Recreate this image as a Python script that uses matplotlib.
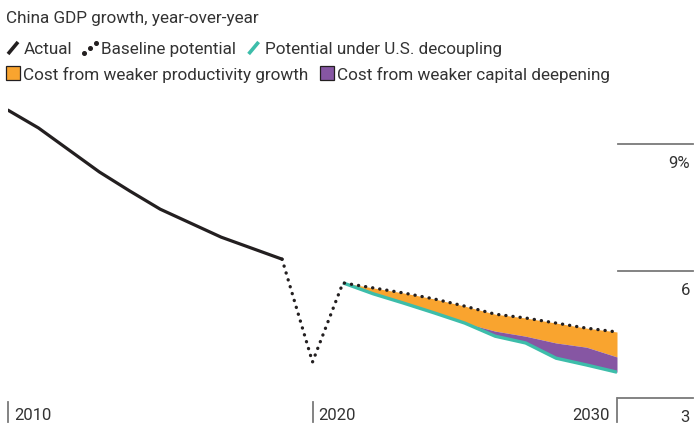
import matplotlib
matplotlib.use("Agg")
import matplotlib.pyplot as plt
from matplotlib.lines import Line2D
from matplotlib.patches import Rectangle
from matplotlib import transforms
import numpy as np

# ---- data -------------------------------------------------------------
actual_years = [2010, 2011, 2012, 2013, 2014, 2015, 2016, 2017, 2018, 2019]
actual_values = [9.80, 9.38, 8.86, 8.34, 7.89, 7.46, 7.13, 6.80, 6.54, 6.28]

baseline_years = [2019, 2020, 2021, 2022, 2023, 2024, 2025, 2026, 2027, 2028, 2029, 2030]
baseline_values = [6.28, 3.85, 5.72, 5.60, 5.48, 5.34, 5.17, 4.98, 4.89, 4.77, 4.65, 4.56]

projection_years = [2021, 2022, 2023, 2024, 2025, 2026, 2027, 2028, 2029, 2030]
productivity_cost = [0.00, 0.14, 0.24, 0.33, 0.40, 0.40, 0.43, 0.47, 0.45, 0.59]
capital_cost = [0.00, 0.00, 0.00, 0.00, 0.00, 0.12, 0.16, 0.36, 0.42, 0.36]

x_ticks = [2010, 2020, 2030]
x_tick_labels = ["2010", "2020", "2030"]
y_ticks = [3, 6, 9]
y_tick_labels = ["3", "6", "9%"]

title = "China GDP growth, year-over-year"
legend_row1 = ["Actual", "Baseline potential", "Potential under U.S. decoupling"]
legend_row2 = ["Cost from weaker productivity growth", "Cost from weaker capital deepening"]

# ---- style ------------------------------------------------------------
BLACK = "#231f20"
TEAL = "#3dbdaa"
ORANGE = "#f9a42f"
PURPLE = "#8656a3"
GRID = "#7a7a7a"
TEXT = "#333333"
FONT = ["Roboto", "DejaVu Sans"]
NUM_FONT = ["Roboto", "DejaVu Sans"]
FS = 12.3
NUM_FS = 12

W, H = 695, 425
fig = plt.figure(figsize=(W / 100, H / 100), dpi=100)
fig.patch.set_facecolor("white")

def fx(px):
    return px / W

def fy(py):
    return 1 - py / H

# axes: 2010 -> x=8px, 2030 -> x=617px ; 3 -> y=398px, 10 -> y=101.7px
ax_left, ax_right = 8, 617
ax_bottom, ax_top = 398, 398 - 7 * 42.33
ax = fig.add_axes([fx(ax_left), fy(ax_bottom), (ax_right - ax_left) / W, (ax_bottom - ax_top) / H])
ax.set_xlim(2010, 2030)
ax.set_ylim(3, 10)
ax.axis("off")

base = np.array(baseline_values[2:])
prod = np.array(productivity_cost)
cap = np.array(capital_cost)
capital_top = base - prod
decoupled = capital_top - cap

ax.fill_between(projection_years, capital_top, base, color=ORANGE, lw=0, zorder=1)
ax.fill_between(projection_years, decoupled, capital_top, color=PURPLE, lw=0, zorder=2)
ax.plot(projection_years, decoupled, color=TEAL, lw=2.4, solid_capstyle="butt", zorder=3)
ax.plot(actual_years, actual_values, color=BLACK, lw=2.3, solid_capstyle="round",
        solid_joinstyle="round", zorder=4)
ax.plot(baseline_years, baseline_values, color=BLACK, lw=2.4, linestyle=(0, (0.05, 2.1)),
        dash_capstyle="round", zorder=5)

# right-hand value scale
ytrans = ax.get_yaxis_transform()
gx0 = (618 - ax_left) / (ax_right - ax_left)
gx1 = (693 - ax_left) / (ax_right - ax_left)
lx = (690 - ax_left) / (ax_right - ax_left)
for v, lab in zip(y_ticks, y_tick_labels):
    ax.plot([gx0, gx1], [v, v], transform=ytrans, color=GRID, lw=1.3, clip_on=False)
    ax.text(lx, v - 0.45, lab, transform=ytrans, ha="right", va="center",
            fontsize=NUM_FS, color=TEXT, family=NUM_FONT)

# year ticks along the bottom
xtrans = ax.get_xaxis_transform()
px_h = ax_bottom - ax_top
for yr, lab in zip(x_ticks, x_tick_labels):
    last = yr == x_ticks[-1]
    top = 0 if last else -4 / px_h
    ax.plot([yr, yr], [top, -24 / px_h], transform=xtrans, color=GRID, lw=1.3,
            clip_on=False)
    off = transforms.offset_copy(xtrans, fig=fig, x=(-7 if last else 6) * 0.72,
                                 y=0, units="points")
    ax.text(yr, -17 / px_h, lab, transform=off, ha="right" if last else "left",
            va="center", fontsize=NUM_FS, color=TEXT, family=NUM_FONT)

# title
fig.text(fx(6), fy(18), title, ha="left", va="center", fontsize=FS, color=TEXT,
         family=FONT)

# legend, laid out left to right
renderer = fig.canvas.get_renderer()

def put_text(x_px, y_px, s):
    t = fig.text(fx(x_px), fy(y_px + 1.5), s, ha="left", va="center", fontsize=FS,
                 color=TEXT, family=FONT)
    bb = t.get_window_extent(renderer=renderer)
    return bb.x1

def slash(x_px, y_px, color):
    fig.add_artist(Line2D([fx(x_px), fx(x_px + 10)], [fy(y_px + 6), fy(y_px - 6)],
                          color=color, lw=2.6, solid_capstyle="butt"))

def dots(x_px, y_px):
    xs = [x_px + 1, x_px + 7, x_px + 13]
    ys = [y_px + 5, y_px + 0, y_px - 5]
    fig.add_artist(Line2D([fx(v) for v in xs], [fy(v) for v in ys], ls="none",
                          marker="o", ms=2.6, color=BLACK, mec=BLACK))

def square(x_px, y_px, color):
    fig.add_artist(Rectangle((fx(x_px), fy(y_px + 7)), 14 / W, 14 / H, facecolor=color,
                             edgecolor=BLACK, lw=0.9))

r1 = 48
slash(8, r1, BLACK)
end = put_text(24, r1, legend_row1[0])
dots(end + 10, r1)
end = put_text(end + 28, r1, legend_row1[1])
slash(end + 13, r1, TEAL)
put_text(end + 29, r1, legend_row1[2])

r2 = 73
square(6, r2, ORANGE)
end = put_text(23, r2, legend_row2[0])
square(end + 12, r2, PURPLE)
put_text(end + 29, r2, legend_row2[1])

fig.savefig("out.png", dpi=100, facecolor="white")
